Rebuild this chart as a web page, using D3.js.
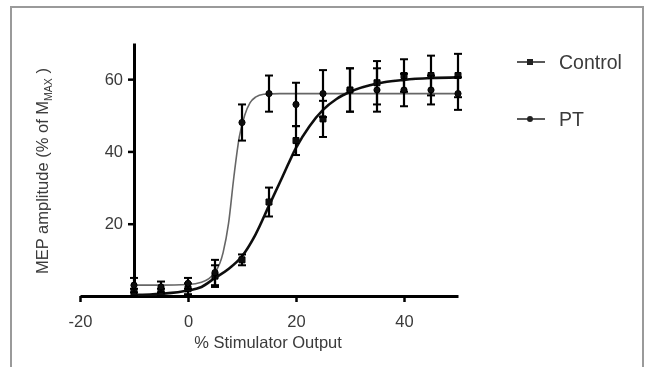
<!DOCTYPE html>
<html>
<head>
<meta charset="utf-8">
<script src="https://cdn.jsdelivr.net/npm/d3@7"></script>
<style>
  body { margin: 0; background: #fff; }
  svg { display: block; font-family: "Liberation Sans", Arial, sans-serif; }
</style>
</head>
<body>
<svg id="chart"></svg>
<script>
var width = 646, height = 367;

// data
var stimX = [-10, -5, 0, 5, 10, 15, 20, 25, 30, 35, 40, 45, 50];
var controlMean = [1, 1, 2, 5.5, 10, 26, 43, 49, 57, 59, 61, 61, 61];
var controlErr = [1, 1, 1.5, 3, 1.5, 4, 4, 5, 6, 6, 4.5, 5.5, 6];
var ptMean = [3, 2.5, 3.5, 6.5, 48, 56, 53, 56, 57, 57, 57, 57, 56];
var ptErr = [2, 1.5, 1.5, 3.5, 5, 5, 6, 6.5, 6, 6, 4.5, 4, 4.5];

// fitted curves
var controlFitX = [-10, -5, 0, 2.5, 5, 7.5, 10, 12.5, 15, 17.5, 20, 22.5, 25, 27.5, 30, 35, 40, 45, 50];
var controlFitY = [0.3, 0.6, 1.5, 2.5, 5, 7.5, 11, 17, 25, 33, 41, 47, 51.5, 54.5, 56.5, 58.8, 59.8, 60.3, 60.5];
var ptFitX = [-10, -5, 0, 2.5, 5, 6.5, 7.5, 8.5, 9.5, 10.5, 11.5, 12.5, 14, 17, 50];
var ptFitY = [3, 3, 3.2, 3.8, 6.5, 12, 20, 33, 44, 50, 53.5, 55, 55.8, 56, 56];

var xTicks = [-20, 0, 20, 40];
var yTicks = [20, 40, 60];
var legendNames = ["Control", "PT"];

var svg = d3.select("#chart")
    .attr("width", width)
    .attr("height", height);

svg.append("defs").append("filter")
    .attr("id", "soft")
    .append("feGaussianBlur")
    .attr("stdDeviation", 0.45);

// outer frame
svg.append("rect")
    .attr("x", 11)
    .attr("y", 7)
    .attr("width", 632)
    .attr("height", 380)
    .attr("fill", "#fff")
    .attr("stroke", "#9a9a9a")
    .attr("stroke-width", 2);

var g = svg.append("g").attr("filter", "url(#soft)");

var x = d3.scaleLinear()
    .domain([-20, 50])
    .range([80, 458]);

var y = d3.scaleLinear()
    .domain([0, 70])
    .range([296, 43]);

var plain = function(d) { return String(d); };

// x axis
var xAxis = g.append("g")
    .attr("transform", "translate(0," + y(0) + ")")
    .call(d3.axisBottom(x).tickValues(xTicks).tickFormat(plain).tickSize(6).tickSizeOuter(0).tickPadding(13));
xAxis.select(".domain").attr("stroke", "#000").attr("stroke-width", 3);
xAxis.selectAll(".tick line").attr("stroke", "#000").attr("stroke-width", 2.5);
xAxis.selectAll(".tick text")
    .attr("fill", "#3a3a3a")
    .style("font-size", "16.5px");

// y axis sits at x = -10
var yAxis = g.append("g")
    .attr("transform", "translate(" + x(-10) + ",0)")
    .call(d3.axisLeft(y).tickValues(yTicks).tickFormat(plain).tickSize(6).tickSizeOuter(0).tickPadding(5));
yAxis.select(".domain").attr("stroke", "#000").attr("stroke-width", 3);
yAxis.selectAll(".tick line").attr("stroke", "#000").attr("stroke-width", 2.5);
yAxis.selectAll(".tick text")
    .attr("fill", "#3a3a3a")
    .style("font-size", "16.5px");

// axis titles
g.append("text")
    .attr("x", 268)
    .attr("y", 348)
    .attr("text-anchor", "middle")
    .attr("fill", "#3a3a3a")
    .style("font-size", "16.5px")
    .text("% Stimulator Output");

var yTitle = g.append("text")
    .attr("transform", "translate(48,171) rotate(-90)")
    .attr("text-anchor", "middle")
    .attr("fill", "#3a3a3a")
    .style("font-size", "16.5px");
yTitle.append("tspan").text("MEP amplitude (% of M");
yTitle.append("tspan").attr("dy", 4).style("font-size", "10.5px").text("MAX");
yTitle.append("tspan").attr("dy", -4).text(" )");

// fitted curves
var fitLine = d3.line()
    .x(function(d) { return x(d[0]); })
    .y(function(d) { return y(d[1]); })
    .curve(d3.curveMonotoneX);

g.append("path")
    .datum(d3.zip(ptFitX, ptFitY))
    .attr("fill", "none")
    .attr("stroke", "#666")
    .attr("stroke-width", 1.6)
    .attr("d", fitLine);

g.append("path")
    .datum(d3.zip(controlFitX, controlFitY))
    .attr("fill", "none")
    .attr("stroke", "#111")
    .attr("stroke-width", 2.6)
    .attr("d", fitLine);

// error bars and markers
function drawSeries(means, errs, shape) {
    var pts = stimX.map(function(v, i) { return {x: v, m: means[i], e: errs[i]}; });
    var grp = g.append("g");
    grp.selectAll(".bar")
        .data(pts)
        .enter().append("line")
        .attr("x1", function(d) { return x(d.x); })
        .attr("x2", function(d) { return x(d.x); })
        .attr("y1", function(d) { return y(d.m - d.e); })
        .attr("y2", function(d) { return y(d.m + d.e); })
        .attr("stroke", "#000")
        .attr("stroke-width", 2.2);
    [1, -1].forEach(function(s) {
        grp.selectAll(".cap" + s)
            .data(pts)
            .enter().append("line")
            .attr("x1", function(d) { return x(d.x) - 4; })
            .attr("x2", function(d) { return x(d.x) + 4; })
            .attr("y1", function(d) { return y(d.m + s * d.e); })
            .attr("y2", function(d) { return y(d.m + s * d.e); })
            .attr("stroke", "#000")
            .attr("stroke-width", 2);
    });
    grp.selectAll(".mark")
        .data(pts)
        .enter().append("path")
        .attr("transform", function(d) { return "translate(" + x(d.x) + "," + y(d.m) + ")"; })
        .attr("d", d3.symbol().type(shape).size(shape === d3.symbolSquare ? 36 : 30))
        .attr("fill", "#111")
        .attr("stroke", "#000")
        .attr("stroke-width", 1);
}
drawSeries(controlMean, controlErr, d3.symbolSquare);
drawSeries(ptMean, ptErr, d3.symbolCircle);

// legend
var legend = g.selectAll(".legend")
    .data(legendNames)
    .enter().append("g")
    .attr("transform", function(d, i) { return "translate(0," + (62 + i * 57) + ")"; });
legend.append("line")
    .attr("x1", 517)
    .attr("x2", 545)
    .attr("stroke", "#222")
    .attr("stroke-width", 1.5);
legend.append("path")
    .attr("transform", "translate(530,0)")
    .attr("d", function(d, i) { return d3.symbol().type(i === 0 ? d3.symbolSquare : d3.symbolCircle).size(i === 0 ? 36 : 28)(); })
    .attr("fill", "#222");
legend.append("text")
    .attr("x", 559)
    .attr("y", 7)
    .attr("fill", "#3a3a3a")
    .style("font-size", "19.5px")
    .text(function(d) { return d; });
</script>
</body>
</html>
